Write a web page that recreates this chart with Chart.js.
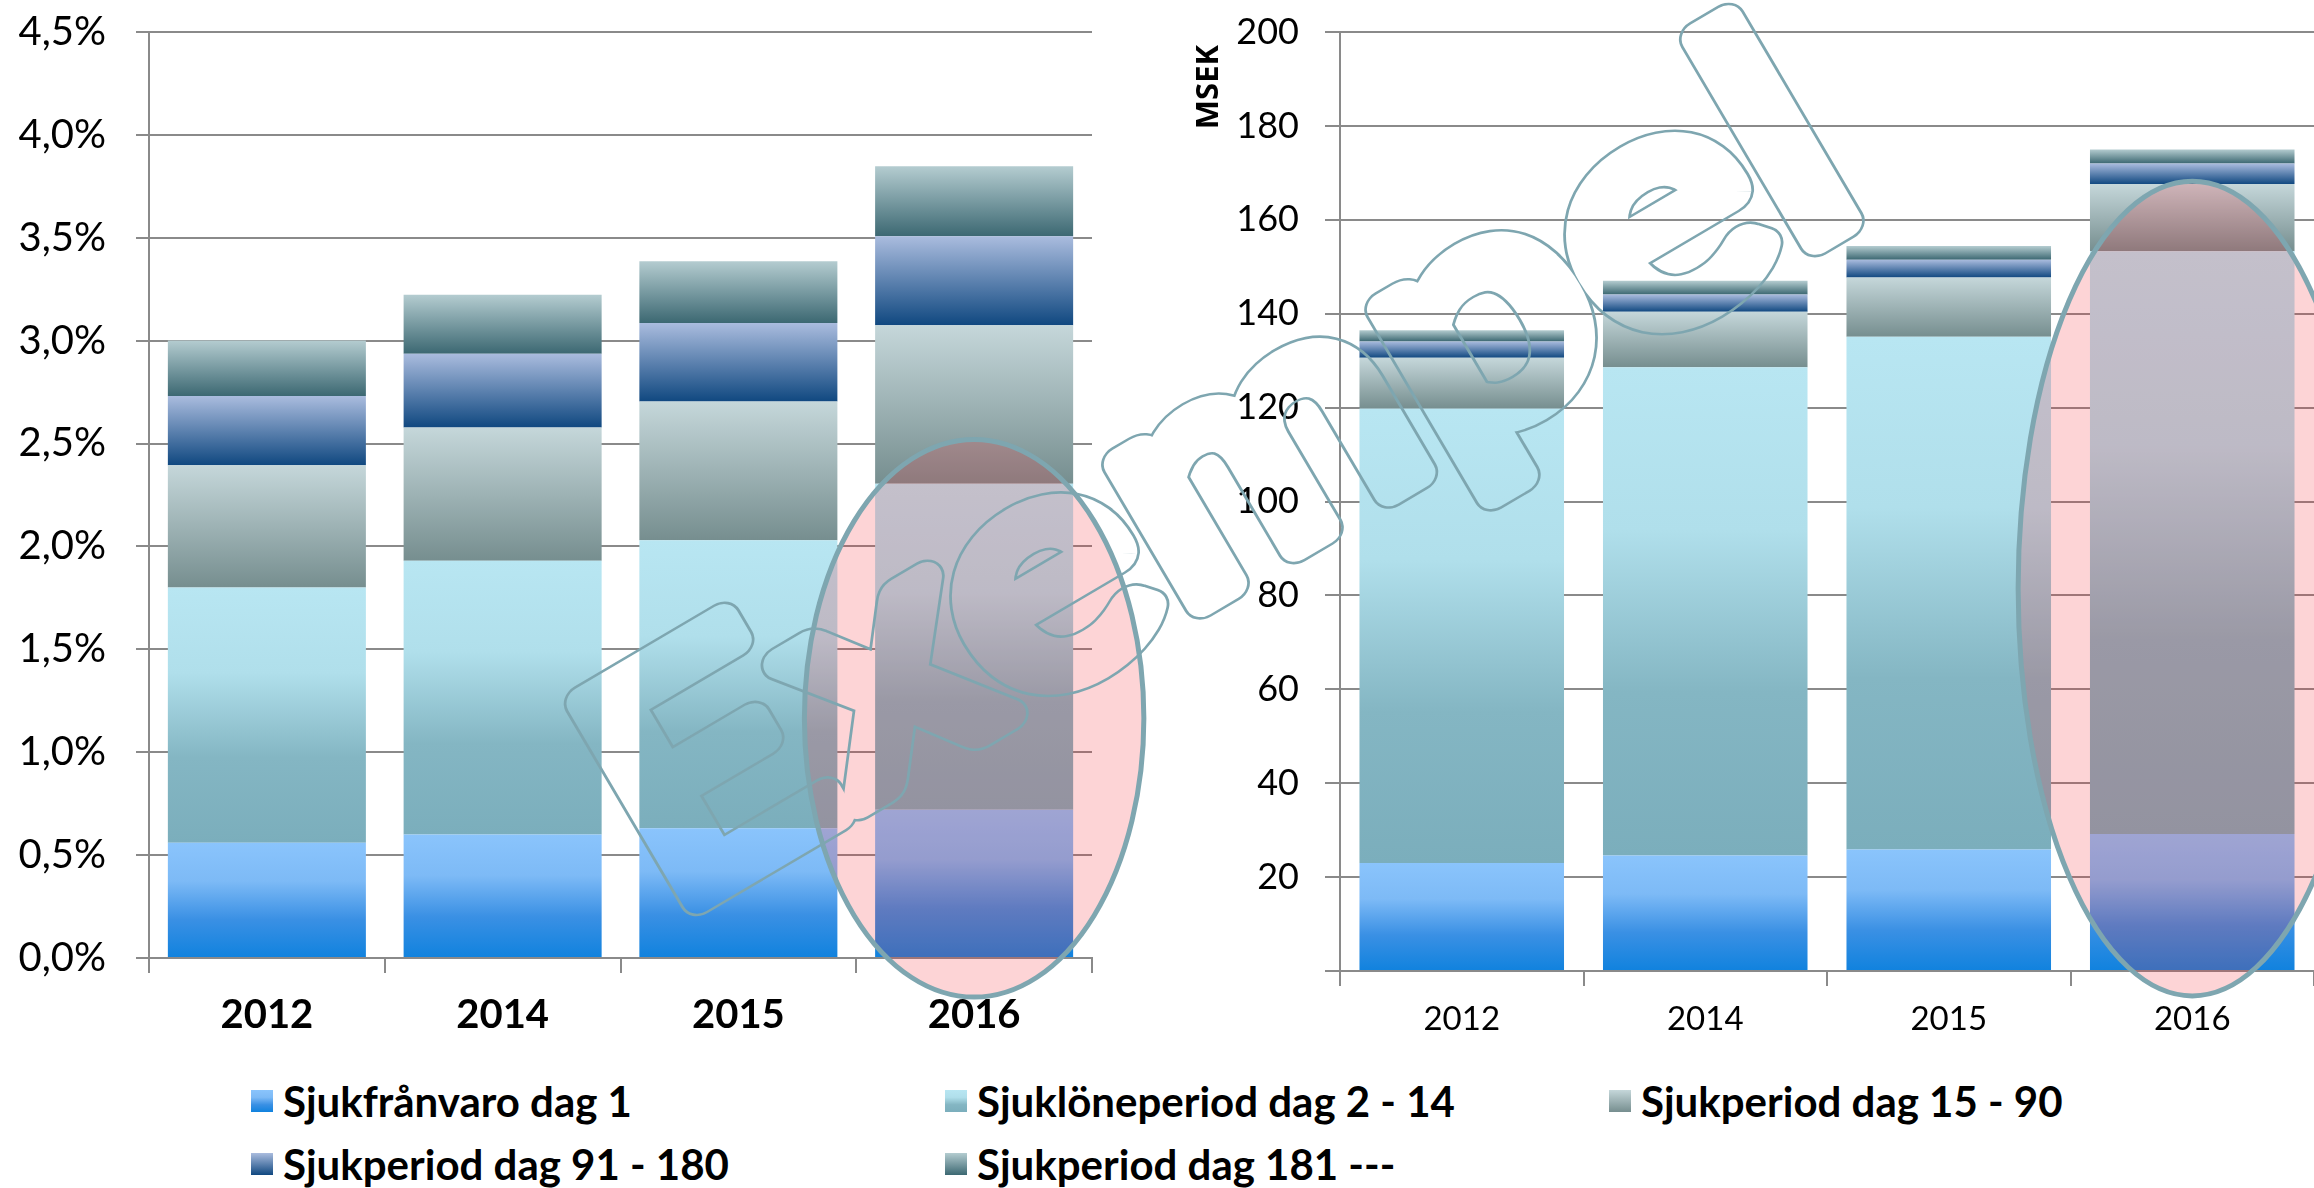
<!DOCTYPE html>
<html lang="sv">
<head>
<meta charset="utf-8">
<script src="https://cdn.jsdelivr.net/npm/chart.js@4"></script>
<style>
  body {
    margin: 0;
    width: 2314px;
    height: 1188px;
    position: relative;
    overflow: hidden;
    background: #fff;
    font-family: Lato, "Open Sans", sans-serif;
  }
  canvas { position: absolute; top: 0; }
  #share { left: 0; }
  #cost { left: 1160px; }
  #unit {
    position: absolute;
    left: 1206px;
    top: 87px;
    transform: translate(-50%, -50%) rotate(-90deg);
    font-family: "Open Sans", sans-serif;
    font-weight: 700;
    font-size: 31px;
    line-height: 1;
  }
  #legend {
    position: absolute;
    left: 251px;
    top: 1069px;
    display: grid;
    grid-template-columns: 694px 664px auto;
    grid-auto-rows: 63px;
    font-weight: 700;
    font-size: 42px;
    color: #000;
  }
  .item { display: flex; align-items: center; white-space: nowrap; }
  .box { width: 22px; height: 22px; margin-right: 10px; flex: none; }
  #mark { position: absolute; left: 0; top: 0; pointer-events: none; }
  .wm {
    font-family: Lato, "Open Sans", sans-serif;
    font-weight: 400;
    font-size: 318px;
    letter-spacing: 4px;
    stroke-linejoin: round;
  }
</style>
</head>
<body>
<canvas id="share" width="1160" height="1060"></canvas>
<canvas id="cost" width="1154" height="1060"></canvas>
<div id="unit">MSEK</div>
<div id="legend"></div>
<svg id="mark" width="2314" height="1188">
  <defs>
    <mask id="hollow" maskUnits="userSpaceOnUse" x="0" y="0" width="2314" height="1188">
      <rect width="2314" height="1188" fill="white"/>
      <text class="wm" transform="translate(670 915) rotate(-30.5) scale(1.15 1)" fill="black" stroke="black" stroke-width="30">Exempel</text>
    </mask>
  </defs>
  <g mask="url(#hollow)">
    <text class="wm" transform="translate(670 915) rotate(-30.5) scale(1.15 1)" fill="#7ea6b0" stroke="#7ea6b0" stroke-width="35">Exempel</text>
  </g>
</svg>
<script>
const years = ['2012', '2014', '2015', '2016'];
const seriesNames = [
  'Sjukfrånvaro dag 1',
  'Sjuklöneperiod dag 2 - 14',
  'Sjukperiod dag 15 - 90',
  'Sjukperiod dag 91 - 180',
  'Sjukperiod dag 181 ---',
];

// andel av arbetstid, procent
const shareDag1 = [0.56, 0.60, 0.63, 0.72];
const shareDag2to14 = [1.24, 1.33, 1.40, 1.585];
const shareDag15to90 = [0.595, 0.648, 0.674, 0.77];
const shareDag91to180 = [0.336, 0.359, 0.382, 0.432];
const shareDag181 = [0.27, 0.286, 0.30, 0.34];

// kostnad, MSEK
const costDag1 = [23.0, 24.6, 25.9, 29.2];
const costDag2to14 = [96.8, 104.0, 109.2, 124.1];
const costDag15to90 = [10.8, 11.8, 12.6, 14.3];
const costDag91to180 = [3.5, 3.7, 3.8, 4.4];
const costDag181 = [2.4, 2.9, 2.9, 3.0];

const GRID = '#8a8a8a';

// top -> bottom colour stops for each series
const gradients = [
  ['#8ac4fc', '#7dbaf6', '#3a90e4', '#1082de'],
  ['#b8e6f2', '#b0dfeb', '#84b6c3', '#7baebc'],
  ['#c5d7da', '#768e8f'],
  ['#aabcde', '#104880'],
  ['#b4ccd0', '#3c6872'],
];

function segmentFill(stops) {
  return (context) => {
    const chart = context.chart;
    const { chartArea, scales } = chart;
    if (!chartArea || context.type !== 'data') return stops[0];
    const i = context.dataIndex;
    let base = 0;
    for (let k = 0; k < context.datasetIndex; k++) {
      base += chart.data.datasets[k].data[i];
    }
    const top = scales.y.getPixelForValue(base + context.raw);
    const bottom = scales.y.getPixelForValue(base);
    const g = chart.ctx.createLinearGradient(0, top, 0, bottom);
    stops.forEach((c, j) => g.addColorStop(j / (stops.length - 1), c));
    return g;
  };
}

const whiteBackground = {
  id: 'whiteBackground',
  beforeDraw(chart) {
    const { ctx, width, height } = chart;
    ctx.save();
    ctx.fillStyle = '#fff';
    ctx.fillRect(0, 0, width, height);
    ctx.restore();
  }
};

// the highlighted 2016 column
const ring = {
  id: 'ring',
  afterDraw(chart, args, opts) {
    const { ctx, scales: { x, y } } = chart;
    const cx = x.getPixelForValue(opts.index);
    const cw = x.getPixelForValue(1) - x.getPixelForValue(0);
    const top = y.getPixelForValue(opts.top);
    const bottom = y.getPixelForValue(opts.bottom);
    ctx.save();
    ctx.beginPath();
    ctx.ellipse(cx, (top + bottom) / 2, cw * opts.rx, (bottom - top) / 2, 0, 0, Math.PI * 2);
    ctx.fillStyle = 'rgba(245, 40, 50, 0.2)';
    ctx.fill();
    ctx.lineWidth = 5;
    ctx.strokeStyle = '#7ea6b0';
    ctx.stroke();
    ctx.restore();
  }
};

Chart.defaults.font.family = 'Lato, "Open Sans", sans-serif';
Chart.defaults.color = '#000';

function makeChart(id, series, cfg) {
  return new Chart(document.getElementById(id), {
    type: 'bar',
    data: {
      labels: years,
      datasets: series.map((data, k) => ({
        label: seriesNames[k],
        data,
        backgroundColor: segmentFill(gradients[k]),
        borderWidth: 0,
        barPercentage: 0.84,
        categoryPercentage: 1,
      })),
    },
    options: {
      responsive: false,
      animation: false,
      layout: { padding: cfg.padding },
      plugins: {
        legend: { display: false },
        tooltip: { enabled: false },
        ring: cfg.ring,
      },
      scales: {
        x: {
          stacked: true,
          afterFit: (scale) => { scale.height = cfg.xHeight; },
          grid: { drawOnChartArea: false, offset: true, tickLength: 15, color: GRID, lineWidth: 2 },
          border: { color: GRID, width: 2 },
          ticks: { color: '#000', font: cfg.xFont, padding: cfg.xPad },
        },
        y: {
          stacked: true,
          min: 0,
          max: cfg.max,
          afterFit: (scale) => {
            scale.width = cfg.yWidth;
            scale.paddingTop = 0;
            scale.paddingBottom = 0;
          },
          grid: { color: GRID, lineWidth: 2, tickLength: cfg.yTick },
          border: { color: GRID, width: 2 },
          ticks: { stepSize: cfg.step, color: '#000', font: cfg.yFont, padding: cfg.yPad, callback: cfg.format },
        },
      },
    },
    plugins: [whiteBackground, ring],
  });
}

makeChart('share', [shareDag1, shareDag2to14, shareDag15to90, shareDag91to180, shareDag181], {
  padding: { top: 32, right: 68, left: 0, bottom: 0 },
  ring: { index: 3, rx: 0.72, top: 2.52, bottom: -0.19 },
  xHeight: 102, xFont: { size: 40, weight: 'bold' }, xPad: 18,
  yWidth: 149, yTick: 13, yPad: 30, yFont: { size: 40 },
  max: 4.5, step: 0.5,
  format: (v) => v.toFixed(1).replace('.', ',') + '%',
});

makeChart('cost', [costDag1, costDag2to14, costDag15to90, costDag91to180, costDag181], {
  padding: { top: 32, right: 0, left: 0, bottom: 0 },
  ring: { index: 3, rx: 0.715, top: 168.2, bottom: -5.3 },
  xHeight: 89, xFont: { size: 33 }, xPad: 14,
  yWidth: 180, yTick: 15, yPad: 26, yFont: { size: 36 },
  max: 200, step: 20,
  format: (v) => (v === 0 ? '' : v),
});

const legend = document.getElementById('legend');
seriesNames.forEach((name, k) => {
  const item = document.createElement('div');
  item.className = 'item';
  const box = document.createElement('span');
  box.className = 'box';
  box.style.background = `linear-gradient(${gradients[k].join(', ')})`;
  const text = document.createElement('span');
  text.textContent = name;
  item.append(box, text);
  legend.append(item);
});
</script>
</body>
</html>
